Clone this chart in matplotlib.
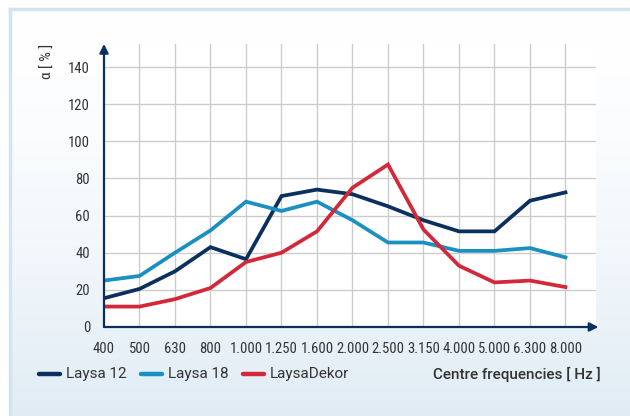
"""Sound absorption curves for the Laysa panels."""

import matplotlib

matplotlib.use("Agg")
import matplotlib.pyplot as plt
import numpy as np
from matplotlib.lines import Line2D

FREQ_LABELS = ["400", "500", "630", "800", "1.000", "1.250", "1.600", "2.000",
               "2.500", "3.150", "4.000", "5.000", "6.300", "8.000"]
LAYSA_12 = [15.5, 20.5, 30, 43, 36.5, 70.5, 74, 71.5, 65, 57.5, 51.5, 51.5, 68, 72.5]
LAYSA_18 = [25, 27.5, 40, 52, 67.5, 62.5, 67.5, 57.5, 45.5, 45.5, 41, 41, 42.5, 37.5]
LAYSA_DEKOR = [11, 11, 15, 21, 35, 40, 51.5, 75, 87.5, 52.5, 33, 24, 25, 21.5]
SERIES = ["Laysa 12", "Laysa 18", "LaysaDekor"]
Y_TICKS = [0, 20, 40, 60, 80, 100, 120, 140]

NAVY = "#0b2f5e"
LIGHT_BLUE = "#1a8fc2"
RED = "#d2283a"
COLORS = [NAVY, LIGHT_BLUE, RED]
TEXT = "#333333"
NARROW = ["Roboto Condensed", "DejaVu Sans"]
REGULAR = ["Roboto", "Liberation Sans", "DejaVu Sans"]
W, H = 630, 416

fig = plt.figure(figsize=(W / 100, H / 100), dpi=100)
fig.patch.set_facecolor("white")

# panel background: white top fading to pale blue, with a thin border left/top
bg = fig.add_axes([10 / W, 0, 1 - 10 / W, 1 - 9 / H])
grad = np.linspace(0, 1, 256) ** 1.6
top_c = np.array([1.0, 1.0, 1.0])
bot_c = np.array([0xe0, 0xec, 0xf5]) / 255
img = top_c[None, :] * (1 - grad[:, None]) + bot_c[None, :] * grad[:, None]
bg.imshow(img[:, None, :], aspect="auto", extent=[0, 1, 0, 1], origin="upper")
bg.set_xlim(0, 1)
bg.set_ylim(0, 1)
bg.set_xticks([])
bg.set_yticks([])
for side in ["right", "bottom"]:
    bg.spines[side].set_visible(False)
for side in ["left", "top"]:
    bg.spines[side].set_color("#d3e4f1")
    bg.spines[side].set_linewidth(2.5)

x0, x1 = 104, 596
y0, y1 = 327, 44
ax = fig.add_axes([x0 / W, 1 - y0 / H, (x1 - x0) / W, (y0 - y1) / H])
ax.set_facecolor("white")
x = np.arange(len(FREQ_LABELS))
ax.set_xlim(0, 13.86)
ax.set_ylim(0, 152.4)

# grid: horizontal at ticks, vertical at each frequency
for yv in Y_TICKS[1:]:
    ax.axhline(yv, color="#cccccc", lw=1.0, zorder=1)
for xv in x[1:]:
    ax.axvline(xv, color="#cccccc", lw=1.0, zorder=1)

for vals, name, col in zip([LAYSA_12, LAYSA_18, LAYSA_DEKOR], SERIES, COLORS):
    ax.plot(x, vals, color=col, lw=2.7, label=name, zorder=3, solid_joinstyle="miter")

for s in ax.spines.values():
    s.set_visible(False)
ax.annotate("", xy=(0, 1.0), xytext=(0, 0), xycoords="axes fraction",
            arrowprops=dict(arrowstyle="-|>", color=NAVY, lw=1.6, mutation_scale=13,
                            shrinkA=0, shrinkB=0), zorder=4)
ax.annotate("", xy=(1.005, 0), xytext=(0, 0), xycoords="axes fraction",
            arrowprops=dict(arrowstyle="-|>", color=NAVY, lw=1.6, mutation_scale=13,
                            shrinkA=0, shrinkB=0), zorder=4)

ax.set_yticks(Y_TICKS)
ax.set_yticklabels([str(v) for v in Y_TICKS], family=NARROW, fontsize=10.5, color=TEXT)
ax.set_xticks(x)
ax.set_xticklabels(FREQ_LABELS, family=NARROW, fontsize=10.5, color=TEXT)
ax.tick_params(axis="both", length=0)
ax.tick_params(axis="y", pad=10)
ax.tick_params(axis="x", pad=11)

fig.text(48 / W, 1 - 61 / H, "α [ % ]", rotation=90, ha="center", va="center",
         family=NARROW, fontsize=11, color=TEXT)

# legend row
leg_y = 1 - 374 / H
for i, (name, col) in enumerate(zip(SERIES, COLORS)):
    lx = [39, 141, 243][i]
    fig.add_artist(Line2D([lx / W, (lx + 21) / W], [leg_y, leg_y], color=col, lw=3.2,
                          solid_capstyle="round"))
    fig.text((lx + 27) / W, leg_y, name, ha="left", va="center",
             family=REGULAR, fontsize=11, color=TEXT)
fig.text(601 / W, leg_y, "Centre frequencies [ Hz ]", ha="right", va="center",
         family=REGULAR, fontsize=11, fontweight="medium", color=TEXT)

fig.savefig("out.png", dpi=100)
